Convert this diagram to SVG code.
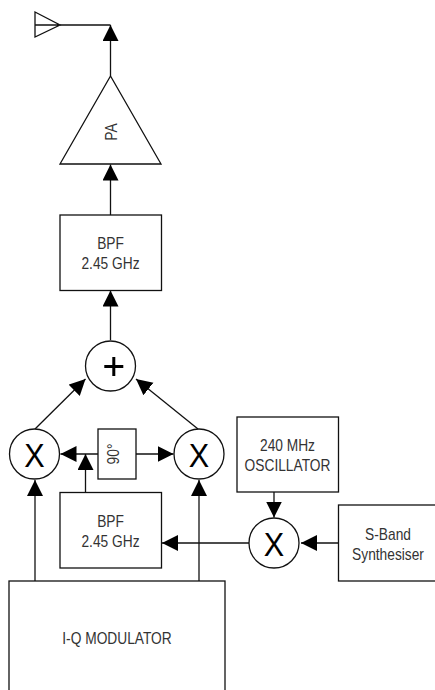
<svg xmlns="http://www.w3.org/2000/svg" width="435" height="690" viewBox="0 0 435 690">
<style>
.s{fill:#fff;stroke:#111;stroke-width:1.3}
.c{fill:none;stroke:#111;stroke-width:1.3}
.h{fill:#000;stroke:none}
text{font-family:"Liberation Sans",Arial,sans-serif;font-size:16px;fill:#333;text-anchor:middle}
.x{font-size:34px;fill:#000}
</style>
<defs>
<marker id="a" markerUnits="userSpaceOnUse" markerWidth="17" markerHeight="17" refX="16" refY="8" orient="auto"><path class="h" d="M0 0L16 8L0 16Z"/></marker>
</defs>
<rect width="435" height="690" fill="#fff"/>
<g id="connectors">
<path class="c" d="M60 25H110.500"/>
<path class="c" d="M110.500 76V25" marker-end="url(#a)"/>
<path class="c" d="M110.500 215V164.500" marker-end="url(#a)"/>
<path class="c" d="M110.500 340V290.500" marker-end="url(#a)"/>
<path class="c" d="M35 429L85.500 379" marker-end="url(#a)"/>
<path class="c" d="M198 429L136 379" marker-end="url(#a)"/>
<path class="c" d="M98 454H60.500" marker-end="url(#a)"/>
<path class="c" d="M136 454H173.500" marker-end="url(#a)"/>
<path class="c" d="M85.500 492V454" marker-end="url(#a)"/>
<path class="c" d="M35 581V480" marker-end="url(#a)"/>
<path class="c" d="M199 581V480" marker-end="url(#a)"/>
<path class="c" d="M249 543H162" marker-end="url(#a)"/>
<path class="c" d="M274 492V517.500" marker-end="url(#a)"/>
<path class="c" d="M338 543H301" marker-end="url(#a)"/>
</g>
<g id="antenna"><path class="c" d="M35 12L60 25L35 37ZM35 25H60"/></g>
<g id="pa"><path class="s" d="M110.500 76L60 164H161Z"/><text transform="translate(117 132) rotate(-90) scale(.86 1)">PA</text></g>
<g id="bpf-top"><rect class="s" x="60" y="215" width="101.500" height="75.500"/><text transform="translate(110.500 249) scale(.86 1)">BPF</text><text transform="translate(110.500 269) scale(.86 1)">2.45 GHz</text></g>
<g id="sum"><circle class="s" cx="110.500" cy="366" r="25"/><path d="M104.300 366.500H123.300M113.800 357V376" fill="none" stroke="#000" stroke-width="3"/></g>
<g id="mixer-i"><circle class="s" cx="34.500" cy="454" r="25"/><text class="x" transform="translate(34.500 467) scale(.9 1)">X</text></g>
<g id="mixer-q"><circle class="s" cx="199" cy="454" r="25"/><text class="x" transform="translate(199 467) scale(.9 1)">X</text></g>
<g id="phase"><rect class="s" x="98" y="429" width="38" height="50"/><text transform="translate(119 454) rotate(-90) scale(.86 1)">90°</text></g>
<g id="bpf-low"><rect class="s" x="60" y="492.500" width="101.500" height="75.500"/><text transform="translate(110.500 527) scale(.86 1)">BPF</text><text transform="translate(110.500 547) scale(.86 1)">2.45 GHz</text></g>
<g id="oscillator"><rect class="s" x="237" y="417" width="101.500" height="75"/><text transform="translate(287.500 451) scale(.86 1)">240 MHz</text><text transform="translate(287.500 471) scale(.86 1)">OSCILLATOR</text></g>
<g id="mixer-lo"><circle class="s" cx="274" cy="543" r="25"/><text class="x" transform="translate(274 556) scale(.9 1)">X</text></g>
<g id="synth"><rect class="s" x="338.500" y="505" width="101" height="76"/><text transform="translate(388 540) scale(.86 1)">S-Band</text><text transform="translate(388 560) scale(.86 1)">Synthesiser</text></g>
<g id="modulator"><rect class="s" x="9" y="581" width="216" height="115"/><text transform="translate(117 644) scale(.86 1)">I-Q MODULATOR</text></g>
</svg>
